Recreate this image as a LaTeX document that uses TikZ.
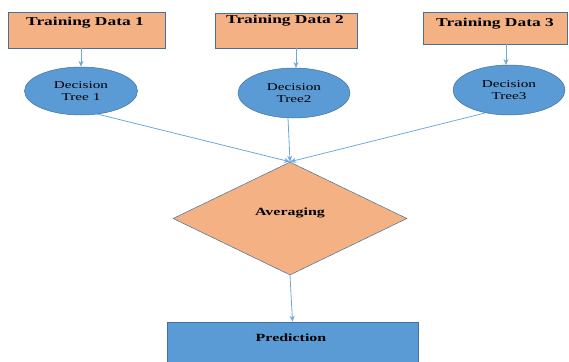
\documentclass[tikz,border=0pt]{standalone}
\usepackage{fontspec}
\setmainfont{Liberation Serif}
\newfontfamily\widefont[FakeStretch=1.45]{Liberation Serif}
\usetikzlibrary{shapes.geometric,arrows.meta}
\definecolor{orangefill}{HTML}{F4B183}
\definecolor{bluefill}{HTML}{5B9BD5}
\definecolor{edgeblue}{HTML}{41719C}
\definecolor{arrowblue}{HTML}{6FA8DC}
\tikzset{
  databox/.style={rectangle, draw=edgeblue, line width=0.6pt, fill=orangefill, inner sep=0pt,
    font=\widefont\fontsize{12}{13}\selectfont\bfseries},
  treenode/.style={ellipse, draw=edgeblue, line width=0.5pt, fill=bluefill, inner sep=0pt,
    font=\widefont\fontsize{10.5}{12}\selectfont, align=center},
  conn/.style={draw=arrowblue, line width=0.8pt, -{Stealth[length=6pt,width=5pt]}},
}
\begin{document}
\begin{tikzpicture}[x=1pt,y=-1pt]
\useasboundingbox (0,0) rectangle (569,361);
% training data boxes
\node[databox, minimum width=157pt, minimum height=36pt] (td1) at (86.5,30) {};
\node[font=\widefont\fontsize{12}{13}\selectfont\bfseries] at (85,23) {Training Data 1};
\node[databox, minimum width=142pt, minimum height=35pt] (td2) at (286,30.5) {};
\node[font=\widefont\fontsize{12}{13}\selectfont\bfseries] at (285,21) {Training Data 2};
\node[databox, minimum width=144pt, minimum height=32pt] (td3) at (495,28) {};
\node[font=\widefont\fontsize{12}{13}\selectfont\bfseries] at (495,24) {Training Data 3};
% trees
\node[treenode, minimum width=113pt, minimum height=48pt] (t1) at (81,91) {Decision\\Tree 1};
\node[treenode, minimum width=112pt, minimum height=50pt] (t2) at (294,93) {Decision\\Tree2};
\node[treenode, minimum width=112pt, minimum height=50pt] (t3) at (509,90) {Decision\\Tree3};
% averaging
\node[diamond, draw=edgeblue, line width=0.5pt, fill=orangefill, inner sep=0pt,
  minimum width=234pt, minimum height=113pt, aspect=2.07] (avg) at (290,218.5) {};
\node[font=\widefont\fontsize{11}{12}\selectfont\bfseries] at (290,213) {Averaging};
% prediction
\node[rectangle, draw=edgeblue, line width=0.6pt, fill=bluefill, inner sep=0pt,
  minimum width=251pt, minimum height=48pt] (pred) at (292.5,346) {};
\node[font=\widefont\fontsize{11}{12}\selectfont\bfseries] at (291,338) {Prediction};
% connectors
\draw[conn] (td1.south -| t1.north) -- (t1.north);
\coordinate (t2top) at (296,68);
\draw[conn] (td2.south -| t2top) -- (t2top);
\coordinate (t3top) at (506,65);
\draw[conn] (td3.south -| t3top) -- (t3top);
\coordinate (t1out) at (97,114);
\coordinate (t2out) at (288,118);
\coordinate (t3out) at (485,113);
\draw[conn] (t1out) -- (avg.north);
\draw[conn] (t2out) -- (avg.north);
\draw[conn] (t3out) -- (avg.north);
\draw[conn] (avg.south) -- (pred.north);
\end{tikzpicture}
\end{document}
